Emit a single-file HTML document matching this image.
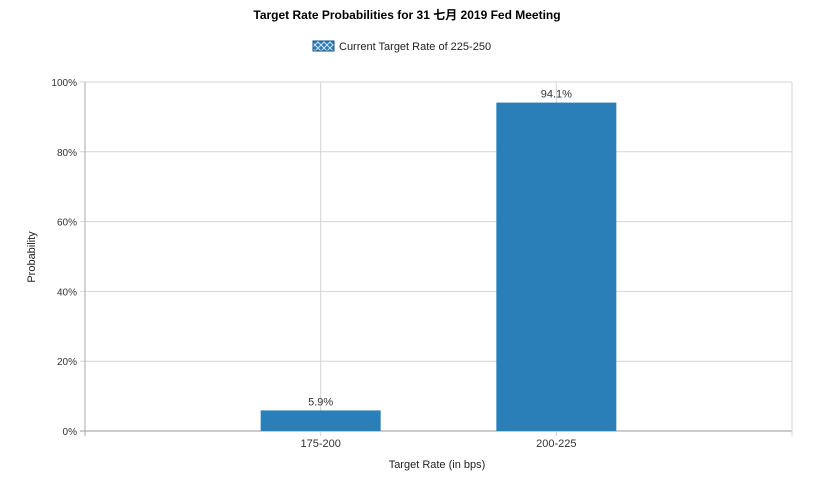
<!DOCTYPE html>
<html><head><meta charset="utf-8"><style>
body{margin:0;background:#fff;}
svg{display:block;font-family:"Liberation Sans","Noto Sans CJK SC",sans-serif;}
</style></head><body>
<svg id="chart" width="813" height="481">
<defs><pattern id="hatch" width="6" height="6" patternUnits="userSpaceOnUse"><rect width="6" height="6" fill="#2b7bb8"/><path d="M0 0L6 6M6 0L0 6" stroke="#cfe3f3" stroke-width="1"/></pattern></defs>
<text x="407" y="19" text-anchor="middle" font-size="12" font-weight="bold">Target Rate Probabilities for 31 七月 2019  Fed Meeting</text>
<g>
<rect x="313" y="41" width="21" height="10" fill="url(#hatch)" stroke="#1b4f7a"/>
<text x="339" y="50" font-size="11" fill="#222">Current Target Rate of 225-250</text>
</g>
<g id="plot"></g>
<text x="437" y="468" text-anchor="middle" font-size="11" fill="#222">Target Rate (in bps)</text>
<text transform="translate(35,257) rotate(-90)" text-anchor="middle" font-size="11" fill="#222">Probability</text>
</svg>
<script>
const categories=["175-200","200-225"];
const values=[5.9,94.1];
const yTicks=[0,20,40,60,80,100];
const L=85,R=792,T=82,B=431;
const ns="http://www.w3.org/2000/svg";
const g=document.getElementById('plot');
function y(v){return B-(v/100)*(B-T);}
function x(i){return L+(i+1)*(R-L)/(categories.length+1);}
function mk(t,a,txt){const e=document.createElementNS(ns,t);for(const k in a)e.setAttribute(k,a[k]);if(txt!==undefined)e.textContent=txt;g.appendChild(e);return e;}
yTicks.forEach(v=>{
 const l=mk('line',{x1:80,x2:R,y1:y(v),y2:y(v),stroke:v===0?'#999':'#d4d4d4'});
 
 
 const t=mk('text',{x:77,y:y(v)+4,'text-anchor':'end','font-size':10,fill:'#333'},v+'%');
 
 
});
const ax=mk('line',{x1:L,x2:L,y1:T,y2:B+5,stroke:'#aaa'});


const rb=mk('line',{x1:R,x2:R,y1:T,y2:B+5,stroke:'#d4d4d4'});


categories.forEach((c,i)=>{
 const cx=x(i);
 const gl=mk('line',{x1:cx,x2:cx,y1:T,y2:B+5,stroke:'#d4d4d4'});
 
 
 const b=mk('rect',{x:cx-60,y:y(values[i]),width:120,height:B-y(values[i]),fill:'#2b7fb8'});
 
 
 const vl=mk('text',{x:cx,y:y(values[i])-5,'text-anchor':'middle','font-size':11,fill:'#333'},values[i].toFixed(1)+'%');
 
 
 const tl=mk('text',{x:cx,y:447,'text-anchor':'middle','font-size':11,fill:'#333'},c);
 
 
});
</script>
</body></html>
